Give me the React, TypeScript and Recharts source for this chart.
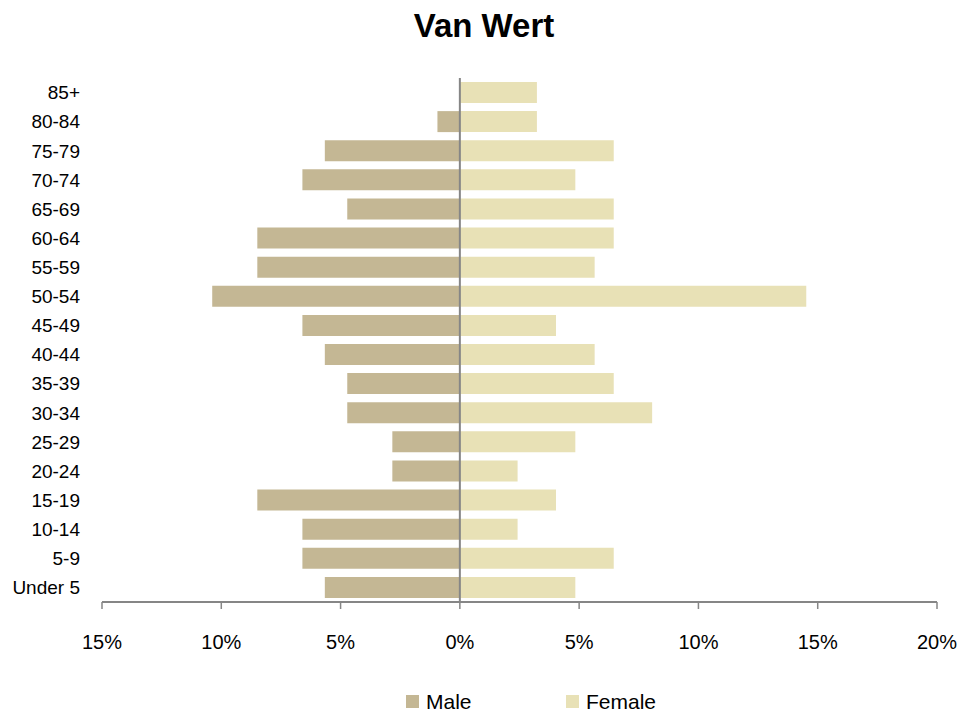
import { BarChart, Bar, XAxis, YAxis, Legend, ReferenceLine } from "recharts";

const FONT = "'Liberation Sans', Arial, sans-serif";

const ages = [
  "Under 5", "5-9", "10-14", "15-19", "20-24", "25-29", "30-34", "35-39", "40-44",
  "45-49", "50-54", "55-59", "60-64", "65-69", "70-74", "75-79", "80-84", "85+",
];
// percent of total
const malePct = [5.66, 6.6, 6.6, 8.49, 2.83, 2.83, 4.72, 4.72, 5.66, 6.6, 10.38, 8.49, 8.49, 4.72, 6.6, 5.66, 0.94, 0];
const femalePct = [4.84, 6.45, 2.42, 4.03, 2.42, 4.84, 8.06, 6.45, 5.65, 4.03, 14.52, 5.65, 6.45, 6.45, 4.84, 6.45, 3.23, 3.23];
const xTicks = [-15, -10, -5, 0, 5, 10, 15, 20];
const legendOrder = ["Male", "Female"];

const data = ages.map((age, i) => ({ age, male: -malePct[i], female: femalePct[i] }));

const MALE = "#C4B794";
const FEMALE = "#E8E1B6";
const AXIS = "#868686";

function PyramidLegend(props: any) {
  const items = [...(props.payload || [])].sort(
    (a: any, b: any) => legendOrder.indexOf(a.value) - legendOrder.indexOf(b.value)
  );
  return (
    <div style={{ display: "flex", paddingLeft: 406, paddingTop: 16, height: 40, boxSizing: "border-box" }}>
      {items.map((it: any) => (
        <div key={it.value} style={{ display: "flex", alignItems: "center", width: 160 }}>
          <span style={{ width: 13, height: 13, background: it.color, marginRight: 7 }} />
          <span style={{ fontSize: 21, lineHeight: "21px", color: "#000" }}>{it.value}</span>
        </div>
      ))}
    </div>
  );
}

export default function App() {
  return (
    <div style={{ position: "absolute", left: 0, top: 0, width: 979, height: 713, background: "#fff", fontFamily: FONT }}>
      <div
        style={{
          position: "absolute", left: 0, top: 9, width: 968, textAlign: "center",
          fontSize: 33, fontWeight: 700, lineHeight: "33px", color: "#000",
        }}
      >
        Van Wert
      </div>
      <BarChart
        width={979}
        height={713}
        data={data}
        layout="vertical"
        stackOffset="sign"
        barSize={21}
        margin={{ top: 78, right: 42, left: 0, bottom: 0 }}
        style={{ fontFamily: FONT }}
      >
        <XAxis
          type="number"
          domain={[-15, 20]}
          ticks={xTicks}
          interval={0}
          tickFormatter={(v: number) => `${Math.abs(v)}%`}
          axisLine={{ stroke: AXIS, strokeWidth: 2 }}
          tickLine={{ stroke: AXIS, strokeWidth: 1.5 }}
          tickSize={7}
          tickMargin={26}
          tick={{ fill: "#000", fontSize: 20 }}
          height={71}
        />
        <YAxis
          type="category"
          dataKey="age"
          reversed
          interval={0}
          width={102}
          axisLine={false}
          tickLine={false}
          tickSize={0}
          tickMargin={22}
          tick={{ fill: "#000", fontSize: 19 }}
        />
        <Bar dataKey="male" name="Male" stackId="a" fill={MALE} isAnimationActive={false} />
        <Bar dataKey="female" name="Female" stackId="a" fill={FEMALE} isAnimationActive={false} />
        <ReferenceLine x={0} stroke={AXIS} strokeWidth={2} />
        <Legend verticalAlign="bottom" height={40} content={<PyramidLegend />} />
      </BarChart>
    </div>
  );
}
